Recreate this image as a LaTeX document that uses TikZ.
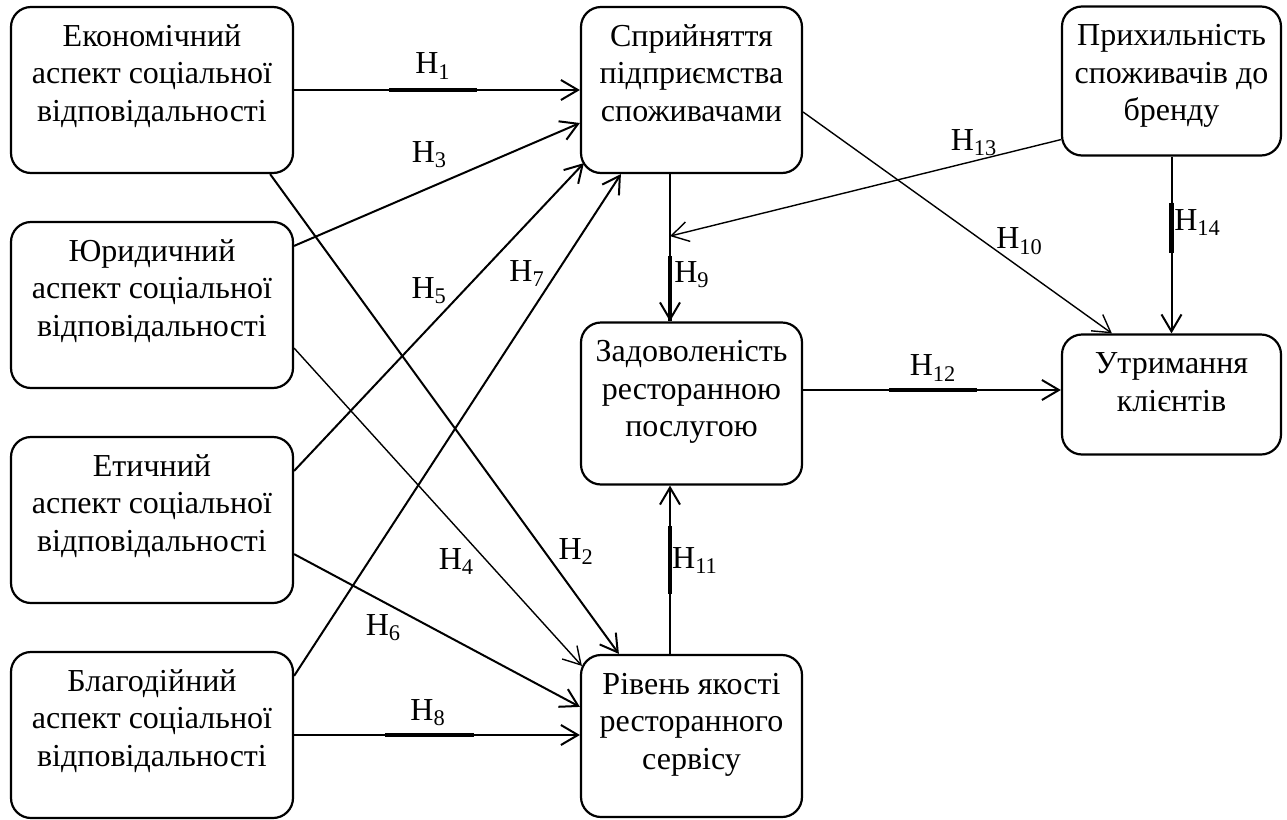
\documentclass[tikz,border=0pt]{standalone}
\usepackage{fontspec}
\setmainfont{Liberation Serif}
\usepackage{tikz}
\usetikzlibrary{arrows.meta}
\tikzstyle{factor} = [rectangle, rounded corners=10pt, inner sep=0pt, draw=black, line width=1.1pt, fill=white]
\tikzstyle{arrow} = [line width=1pt, ->, >={Straight Barb[length=8.5pt, width=10pt]}]
\tikzstyle{thinarrow} = [line width=0.7pt, ->, >={Straight Barb[length=8.5pt, width=10pt]}]
\tikzstyle{hypline} = [line width=2.2pt]
\tikzstyle{hyp} = [inner sep=0pt]
\newcommand{\boxtext}[3]{\begin{minipage}[c][#2][t]{#1}\centering\rule{0pt}{19.5pt}#3\end{minipage}}

\begin{document}
\begin{tikzpicture}[node distance=107.5pt, font=\fontsize{16}{18.75}\selectfont]
	\useasboundingbox (0,0) rectangle (643.5pt,-410pt);
	\node (e1) [factor] at (76pt,-45pt) {\boxtext{141pt}{83pt}{Економічний\\аспект соціальної\\відповідальності}};
	\node (yu) [factor, below of=e1] {\boxtext{141pt}{83pt}{Юридичний\\аспект соціальної\\відповідальності}};
	\node (et) [factor, below of=yu] {\boxtext{141pt}{83pt}{Етичний\\аспект соціальної\\відповідальності}};
	\node (bl) [factor, below of=et] {\boxtext{141pt}{83pt}{Благодійний\\аспект соціальної\\відповідальності}};
	\node (spr) [factor, node distance=269.75pt, right of=e1] {\boxtext{110.5pt}{83pt}{Сприйняття\\підприємства\\споживачами}};
	\node (zad) [factor, node distance=156.75pt, below of=spr] {\boxtext{110.5pt}{81pt}{Задоволеність\\ресторанною\\послугою}};
	\node (riv) [factor, node distance=166.25pt, below of=zad] {\boxtext{110.5pt}{81pt}{Рівень якості\\ресторанного\\сервісу}};
	\node (pryk) [factor, node distance=240pt, right of=spr, yshift=4.5pt] {\boxtext{109.5pt}{74.5pt}{Прихильність\\споживачів до\\бренду}};
	\node (utr) [factor, node distance=156.75pt, below of=pryk] {\boxtext{109.5pt}{60pt}{Утримання\\клієнтів}};
	\coordinate (h9in) at ([xshift=-10.75pt,yshift=-31pt]spr.south);
	\draw [arrow] (e1.east) -- (e1.east -| spr.west) node[hyp, pos=.486, yshift=12pt] {H\textsubscript{1}};
	\draw [hypline, shorten <=47.5pt, shorten >=51.5pt] (e1.east) -- (e1.east -| spr.west);
	\draw [arrow] ([xshift=-12pt]e1.south east) -- ([xshift=19.5pt]riv.north west) node[hyp, pos=.786, xshift=16pt] {H\textsubscript{2}};
	\draw [arrow] ([yshift=-12.5pt]yu.north east) -- ([yshift=-16.5pt]spr.west) node[hyp, pos=.5, xshift=-3.75pt, yshift=15pt] {H\textsubscript{3}};
	\draw [thinarrow] ([yshift=20.5pt]yu.south east) -- ([xshift=1pt,yshift=-6pt]riv.north west) node[hyp, pos=.672, xshift=-15.5pt] {H\textsubscript{4}};
	\draw [arrow] ([yshift=-17.5pt]et.north east) -- ([xshift=2pt,yshift=5.5pt]spr.south west) node[hyp, pos=.587, xshift=-17.5pt] {H\textsubscript{5}};
	\draw [arrow] ([yshift=25pt]et.south east) -- ([yshift=-26.5pt]riv.north west) node[hyp, pos=.3125, yshift=-12.8pt] {H\textsubscript{6}};
	\draw [arrow] ([yshift=-12.5pt]bl.north east) -- ([xshift=20.5pt]spr.south west) node[hyp, pos=.8016, xshift=-14.5pt] {H\textsubscript{7}};
	\draw [arrow] (bl.east) -- (bl.east -| riv.west) node[hyp, pos=.469, yshift=11pt] {H\textsubscript{8}};
	\draw [hypline, shorten <=45.5pt, shorten >=53pt] (bl.east) -- (bl.east -| riv.west);
	\draw [arrow] ([xshift=-10.75pt]spr.south) -- ([xshift=-10.75pt]zad.north) node[hyp, pos=.682, xshift=11pt] {H\textsubscript{9}};
	\draw [hypline, shorten <=41pt] ([xshift=-10.75pt]spr.south) -- ([xshift=-10.75pt]zad.north);
	\draw [thinarrow] ([yshift=-11pt]spr.east) -- ([xshift=25.5pt]utr.north west) node[hyp, pos=.701, yshift=13pt] {H\textsubscript{10}};
	\draw [arrow] ([xshift=-10.75pt]riv.north) -- ([xshift=-10.75pt]zad.south) node[hyp, pos=.557, xshift=12.5pt] {H\textsubscript{11}};
	\draw [hypline, shorten <=30pt, shorten >=20pt] ([xshift=-10.75pt]riv.north) -- ([xshift=-10.75pt]zad.south);
	\draw [arrow] ([yshift=6.75pt]zad.east) -- ([yshift=6.75pt]zad.east -| utr.west) node[hyp, pos=.504, yshift=11pt] {H\textsubscript{12}};
	\draw [hypline, shorten <=43pt, shorten >=42pt] ([yshift=6.75pt]zad.east) -- ([yshift=6.75pt]zad.east -| utr.west);
	\draw [thinarrow] ([yshift=8.5pt]pryk.south west) -- (h9in) node[hyp, pos=.222, yshift=9pt] {H\textsubscript{13}};
	\draw [arrow] (pryk.south) -- (utr.north) node[hyp, pos=.374, xshift=13pt] {H\textsubscript{14}};
	\draw [hypline, shorten <=23pt, shorten >=40pt] (pryk.south) -- (utr.north);
\end{tikzpicture}
\end{document}
